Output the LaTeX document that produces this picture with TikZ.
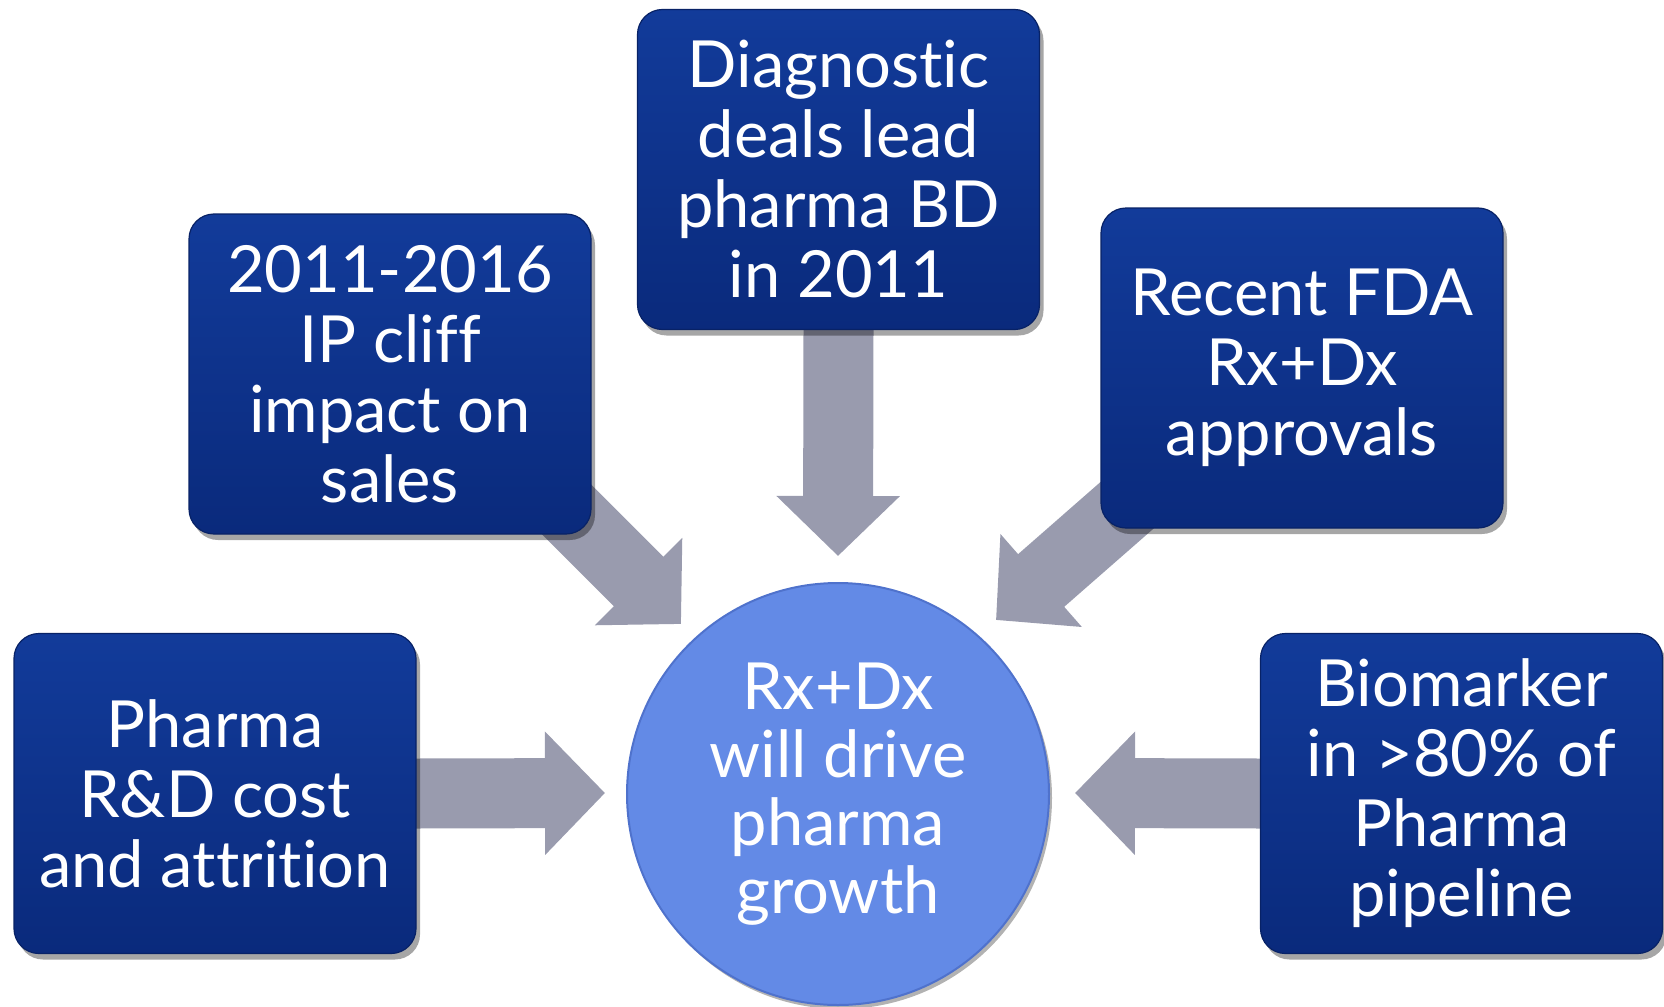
\documentclass[tikz,border=0pt]{standalone}
\usepackage{fontspec}
\setmainfont[RawFeature={-liga;-dlig;-clig}]{Lato}
\usetikzlibrary{arrows.meta,shadows,backgrounds}
\definecolor{boxtop}{HTML}{123B9A}
\definecolor{boxbot}{HTML}{0A2A7C}
\definecolor{boxedge}{HTML}{082266}
\definecolor{hubfill}{HTML}{638AE6}
\definecolor{hubedge}{HTML}{4F72CC}
\definecolor{arrowgray}{HTML}{999BAE}
\tikzset{
  box/.style={rectangle, rounded corners=12.5pt, minimum width=201pt, minimum height=160pt,
    inner sep=0pt, top color=boxtop, bottom color=boxbot, draw=boxedge, line width=0.6pt,
    text=white, align=center, font=\fontsize{32.5}{35}\selectfont,
    drop shadow={shadow xshift=2pt, shadow yshift=-3pt, opacity=0.35, fill=black}},
  hub/.style={circle, minimum size=211pt, inner sep=0pt, fill=hubfill, draw=hubedge, line width=1pt,
    text=white, align=center, font=\fontsize{32.5}{34}\selectfont,
    drop shadow={shadow xshift=1.5pt, shadow yshift=-2pt, opacity=0.3, fill=black}},
  bigarrow/.style={draw=arrowgray, line width=35pt,
    -{Triangle[length=30pt 0 0, width=60pt 0 0]}}
}
\begin{document}
\begin{tikzpicture}[x=0.5pt,y=-0.5pt]
\useasboundingbox (0,0) rectangle (1664,1006);
\node[box] (top) at (838.5,169.5) {Diagnostic\\deals lead\\pharma BD\\in 2011};
\node[box] (tl) at (390,374) {2011-2016\\IP cliff\\impact on\\sales};
\node[box] (tr) at (1302,368) {Recent FDA\\Rx+Dx\\approvals};
\node[box] (lb) at (215,793.5) {Pharma\\R\&D cost\\and attrition};
\node[box] (rb) at (1461.5,793.5) {Biomarker\\in >80\% of\\Pharma\\pipeline};
\node[hub] (c) at (838,794) {Rx+Dx\\will drive\\pharma\\growth};
\coordinate (tipT) at (838,556);
\coordinate (tipTL) at (681,624);
\coordinate (tipTR) at (996,620);
\coordinate (tipL) at (605,793);
\coordinate (tipR) at (1075,793);
\begin{scope}[on background layer]
\draw[bigarrow, shorten <=-10pt] (top.south) -- (tipT);
\draw[bigarrow, shorten <=-40pt] (tl.south east) -- (tipTL);
\draw[bigarrow, shorten <=-40pt] (tr.south west) -- (tipTR);
\draw[bigarrow, shorten <=-10pt] (lb.east) -- (tipL);
\draw[bigarrow, shorten <=-10pt] (rb.west) -- (tipR);
\end{scope}
\end{tikzpicture}
\end{document}
